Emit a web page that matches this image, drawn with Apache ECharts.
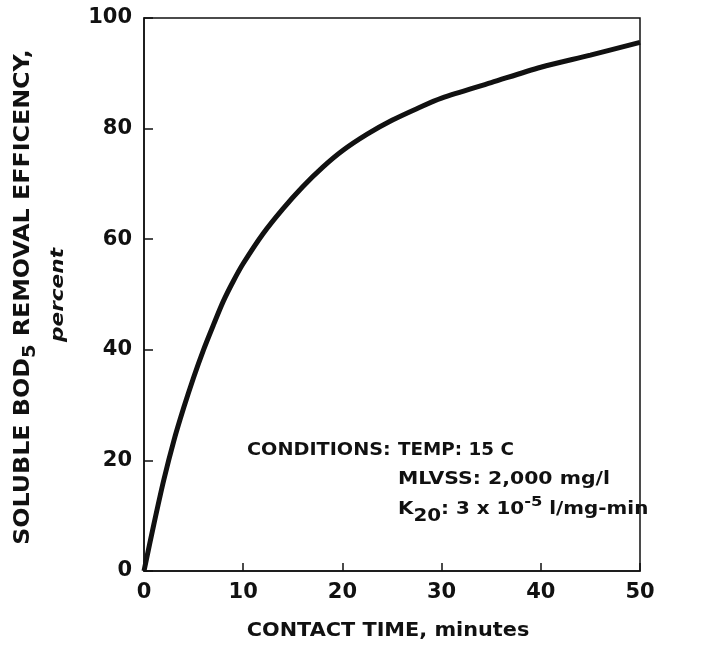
<!DOCTYPE html>
<html>
<head>
<meta charset="utf-8">
<script src="https://cdn.jsdelivr.net/npm/echarts@6/dist/echarts.min.js"></script>
<style>
  html, body { margin: 0; padding: 0; background: #fff; }
  #main { width: 710px; height: 645px; }
</style>
</head>
<body>
<div id="main"></div>
<script>
// contact time, minutes
let timeMin = [0, 1, 2, 3, 4, 5, 6, 7, 8, 9, 10, 12, 14, 16, 18, 20, 22.5, 25, 27.5, 30, 35, 40, 45, 50];
// soluble BOD5 removal efficiency, percent
let removalPct = [0, 8.5, 16.5, 23.5, 29.5, 35, 40, 44.5, 48.8, 52.4, 55.6, 61, 65.5, 69.5, 73, 76, 79, 81.5, 83.6, 85.5, 88.3, 91.1, 93.3, 95.6];
let xTicks = [0, 10, 20, 30, 40, 50];
let yTicks = [0, 20, 40, 60, 80, 100];

let font = 'DejaVu Sans';
let ink = '#111';
let wide = 1.17; // original lettering is wider than DejaVu

let chart = echarts.init(document.getElementById('main'), null, { renderer: 'canvas' });

let option = {
	backgroundColor: '#fff',
	animation: false,
	grid: {
		left: 144,
		top: 18,
		right: 70,
		bottom: 74,
		containLabel: false,
		outerBoundsMode: 'none',
		show: true,
		borderColor: ink,
		borderWidth: 1.5,
	},
	xAxis: {
		type: 'value',
		min: 0,
		max: 50,
		interval: 10,
		splitLine: { show: false },
		axisLine: { lineStyle: { color: ink, width: 1.5 } },
		axisTick: { inside: true, length: 8, lineStyle: { color: ink, width: 1.5 } },
		axisLabel: {
			margin: 11,
			color: ink,
			fontFamily: font,
			fontWeight: 'bold',
			fontSize: 21,
			formatter: (v) => (xTicks.indexOf(v) >= 0 ? String(v) : ''),
		},
	},
	yAxis: {
		type: 'value',
		min: 0,
		max: 100,
		interval: 20,
		splitLine: { show: false },
		axisLine: { lineStyle: { color: ink, width: 1.5 } },
		axisTick: { inside: true, length: 9, lineStyle: { color: ink, width: 1.5 } },
		axisLabel: {
			margin: 12,
			color: ink,
			fontFamily: font,
			fontWeight: 'bold',
			fontSize: 21,
			formatter: (v) => (yTicks.indexOf(v) >= 0 ? String(v) : ''),
		},
	},
	series: [
		{
			type: 'line',
			data: timeMin.map((t, i) => [t, removalPct[i]]),
			smooth: 0.3,
			symbol: 'none',
			lineStyle: { color: ink, width: 5 },
		},
	],
	graphic: [
		// x axis title
		{
			type: 'text',
			x: 388,
			y: 631,
			scaleX: 1.04,
			style: {
				text: 'CONTACT TIME, minutes',
				align: 'center',
				verticalAlign: 'middle',
				fill: ink,
				font: 'bold 20px "DejaVu Sans"',
			},
		},
		// y axis title, two lines
		{
			type: 'text',
			x: 23,
			y: 297,
			rotation: Math.PI / 2,
			scaleX: 1.08,
			style: {
				text: '{t|SOLUBLE BOD}{s|5}{t| REMOVAL EFFICENCY,}',
				align: 'center',
				verticalAlign: 'middle',
				fill: ink,
				rich: {
					t: { fontFamily: font, fontWeight: 'bold', fontSize: 22, lineHeight: 32, verticalAlign: 'middle', fill: ink },
					s: { fontFamily: font, fontWeight: 'bold', fontSize: 18, lineHeight: 32, verticalAlign: 'bottom', fill: ink },
				},
			},
		},
		{
			type: 'text',
			x: 58,
			y: 295,
			rotation: Math.PI / 2,
			scaleX: 1.2,
			style: {
				text: 'percent',
				align: 'center',
				verticalAlign: 'middle',
				fill: ink,
				font: 'italic bold 18px "DejaVu Sans"',
			},
		},
		// conditions note
		{
			type: 'text',
			x: 247,
			y: 451,
			scaleX: 1.13,
			style: { text: 'CONDITIONS:', verticalAlign: 'middle', fill: ink, font: 'bold 17px "DejaVu Sans"' },
		},
		{
			type: 'text',
			x: 398,
			y: 451,
			scaleX: 1.08,
			style: { text: 'TEMP: 15 C', verticalAlign: 'middle', fill: ink, font: 'bold 17px "DejaVu Sans"' },
		},
		{
			type: 'text',
			x: 398,
			y: 480,
			scaleX: 1.2,
			style: { text: 'MLVSS: 2,000 mg/l', verticalAlign: 'middle', fill: ink, font: 'bold 17px "DejaVu Sans"' },
		},
		{
			type: 'text',
			x: 398,
			y: 510,
			scaleX: wide,
			style: {
				text: '{t|K}{s|20}{t|: 3 x 10}{p|-5}{t| l/mg-min}',
				verticalAlign: 'middle',
				fill: ink,
				rich: {
					t: { fontFamily: font, fontWeight: 'bold', fontSize: 17, lineHeight: 30, verticalAlign: 'middle', fill: ink },
					s: { fontFamily: font, fontWeight: 'bold', fontSize: 17, lineHeight: 30, verticalAlign: 'bottom', fill: ink },
					p: { fontFamily: font, fontWeight: 'bold', fontSize: 14, lineHeight: 30, verticalAlign: 'top', fill: ink },
				},
			},
		},
	],
};

chart.setOption(option);
</script>
</body>
</html>
